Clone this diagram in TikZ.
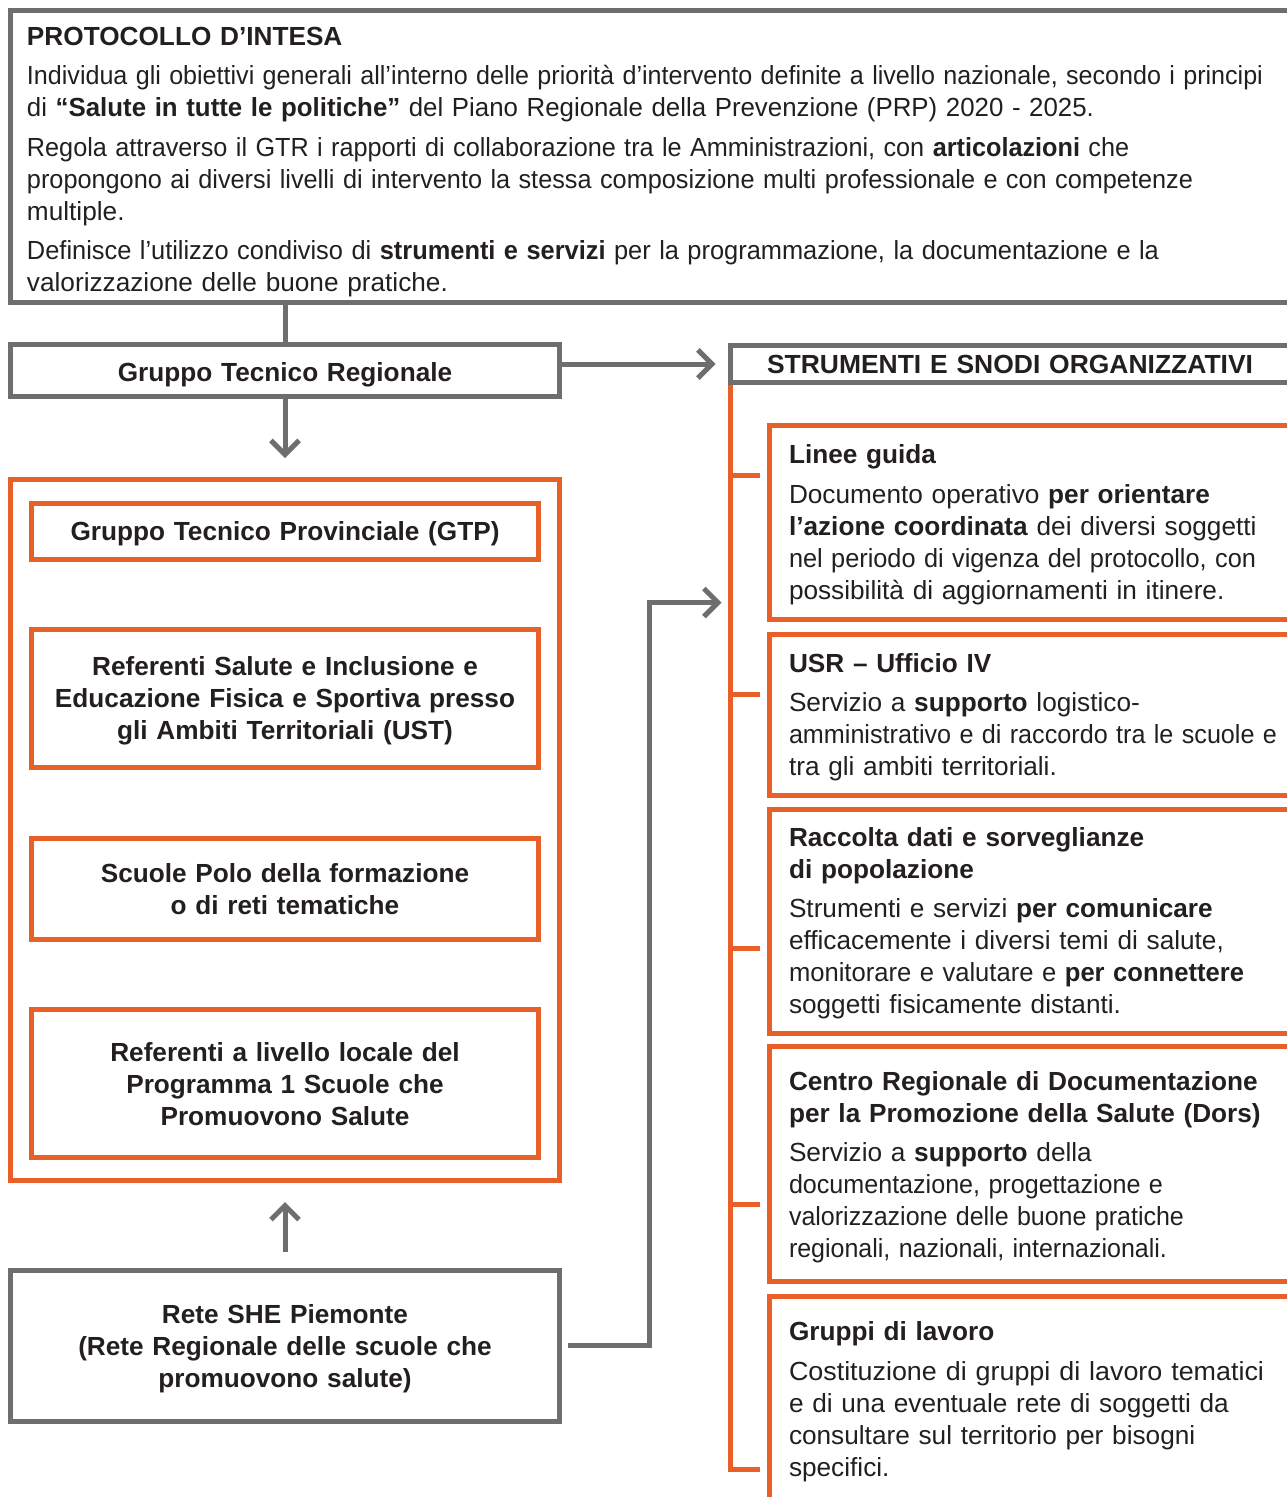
\documentclass[tikz,border=0pt]{standalone}
\usepackage{fontspec}
\usepackage{graphicx}
\setmainfont{Liberation Sans}
\usetikzlibrary{arrows.meta}
\definecolor{gr}{RGB}{110,110,110}
\definecolor{orng}{RGB}{232,96,40}
\definecolor{ink}{RGB}{35,31,32}
\newcommand\fsz{\fontsize{26.2}{32}\selectfont}
\newcommand\fitto[2]{\resizebox{#1pt}{\height}{#2}}
\begin{document}
\begin{tikzpicture}[x=1pt,y=-1pt,
  every node/.style={font=\fsz, text=ink, inner sep=0pt, outer sep=0pt},
  gbox/.style={draw=gr, line width=5pt, rectangle, anchor=north west, inner sep=0pt, outer sep=0pt},
  obox/.style={draw=orng, line width=5pt, rectangle, anchor=north west, inner sep=0pt, outer sep=0pt},
  gline/.style={draw=gr, line width=5pt, line join=miter},
  oline/.style={draw=orng, line width=5pt, line join=miter},
  arr/.style={gline, -{Straight Barb[length=14pt,width=28pt,sharp]}},
  ptext/.style={anchor=base west, align=left, text width=1300pt},
  btext/.style={anchor=base west, align=left, text width=600pt, font=\bfseries\fsz},
  ctext/.style={anchor=base, align=center, text width=520pt, font=\bfseries\fsz},
]
\useasboundingbox (0,0) rectangle (1286,1497);

% ---------- top box ----------
\node[gbox, minimum width=1300pt, minimum height=291.5pt] (top) at (10.5,10.5) {};
\node[ptext, font=\bfseries\fsz] (ttl) at (27,45) {PROTOCOLLO D’INTESA};
\node[ptext] (ptx) at (27,84) {\fitto{1236}{Individua gli obiettivi generali all’interno delle priorità d’intervento definite a livello nazionale, secondo i principi}\\
\fitto{1067}{di \textbf{“Salute in tutte le politiche”} del Piano Regionale della Prevenzione (PRP) 2020 - 2025.}\\[8pt]
\fitto{1102}{Regola attraverso il GTR i rapporti di collaborazione tra le Amministrazioni, con \textbf{articolazioni} che}\\
\fitto{1166}{propongono ai diversi livelli di intervento la stessa composizione multi professionale e con competenze}\\
multiple.\\[7pt]
\fitto{1132}{Definisce l’utilizzo condiviso di \textbf{strumenti e servizi} per la programmazione, la documentazione e la}\\
valorizzazione delle buone pratiche.};

% ---------- GTR ----------
\node[gbox, minimum width=549pt, minimum height=52pt] (gtr) at (10.5,344.5) {};
\node[ctext] (gtrt) at (285,381) {Gruppo Tecnico Regionale};
\draw[gline] (top.south -| gtr.north) -- (gtr.north);

% ---------- left orange container ----------
\node[obox, minimum width=549pt, minimum height=701pt] (lft) at (10.5,479.5) {};
\node[obox, minimum width=507pt, minimum height=55.5pt] (gtp) at (31.5,503.5) {};
\node[ctext] (gtpt) at (285,540) {Gruppo Tecnico Provinciale (GTP)};
\node[obox, minimum width=507pt, minimum height=137.5pt] (ust) at (31.5,629.5) {};
\node[ctext] (ustt) at (285,675) {Referenti Salute e Inclusione e\\Educazione Fisica e Sportiva presso\\gli Ambiti Territoriali (UST)};
\node[obox, minimum width=507pt, minimum height=101pt] (polo) at (31.5,838) {};
\node[ctext] (polot) at (285,882) {Scuole Polo della formazione\\o di reti tematiche};
\node[obox, minimum width=507pt, minimum height=148pt] (loc) at (31.5,1009.5) {};
\node[ctext] (loct) at (285,1061) {Referenti a livello locale del\\Programma 1 Scuole che\\Promuovono Salute};

\draw[arr, shorten >=21.5pt] (gtr.south) -- (lft.north);

% ---------- Rete SHE ----------
\node[gbox, minimum width=549pt, minimum height=150.5pt] (rete) at (10.5,1270.5) {};
\node[ctext] (retet) at (285,1323) {Rete SHE Piemonte\\(Rete Regionale delle scuole che\\promuovono salute)};
\draw[arr, shorten <=18.5pt, shorten >=21.5pt] (rete.north) -- (lft.south);

% ---------- right column ----------
\coordinate (sp1) at (730.5,383);
\coordinate (sp2) at (730.5,1469.5);
\coordinate (sp3) at (760,1469.5);
\draw[oline] (sp1) -- (sp2) -- (sp3);

\node[gbox, minimum width=600pt, minimum height=37pt] (strum) at (730.5,345.5) {};
\node[btext] (strumt) at (767,373) {\fitto{486}{STRUMENTI E SNODI ORGANIZZATIVI}};
\draw[arr, shorten >=15pt] (gtr.east |- strum.west) -- (strum.west);

\node[obox, minimum width=600pt, minimum height=194pt] (b1) at (769.5,425.5) {};
\node[btext] (b1t) at (789,463) {Linee guida};
\node[ptext] (b1b) at (789,503) {Documento operativo \textbf{per orientare}\\
\textbf{l’azione coordinata} dei diversi soggetti\\
\fitto{467}{nel periodo di vigenza del protocollo, con}\\
possibilità di aggiornamenti in itinere.};

\node[obox, minimum width=600pt, minimum height=161pt] (b2) at (769.5,634.5) {};
\node[btext] (b2t) at (789,672) {USR – Ufficio IV};
\node[ptext] (b2b) at (789,711) {Servizio a \textbf{supporto} logistico-\\
\fitto{488}{amministrativo e di raccordo tra le scuole e}\\
tra gli ambiti territoriali.};

\node[obox, minimum width=600pt, minimum height=224pt] (b3) at (769.5,809.5) {};
\node[btext] (b3t) at (789,846) {Raccolta dati e sorveglianze\\di popolazione};
\node[ptext] (b3b) at (789,917) {Strumenti e servizi \textbf{per comunicare}\\
efficacemente i diversi temi di salute,\\
\fitto{455}{monitorare e valutare e \textbf{per connettere}}\\
soggetti fisicamente distanti.};

\node[obox, minimum width=600pt, minimum height=235pt] (b4) at (769.5,1046.5) {};
\node[btext] (b4t) at (789,1090) {Centro Regionale di Documentazione\\per la Promozione della Salute (Dors)};
\node[ptext] (b4b) at (789,1161) {Servizio a \textbf{supporto} della\\
\fitto{374}{documentazione, progettazione e}\\
\fitto{395}{valorizzazione delle buone pratiche}\\
\fitto{378}{regionali, nazionali, internazionali.}};

\node[obox, minimum width=600pt, minimum height=240pt] (b5) at (769.5,1296.5) {};
\node[btext] (b5t) at (789,1340) {Gruppi di lavoro};
\node[ptext] (b5b) at (789,1380) {\fitto{475}{Costituzione di gruppi di lavoro tematici}\\
e di una eventuale rete di soggetti da\\
consultare sul territorio per bisogni\\
specifici.};

% ticks from spine to boxes
\coordinate (k1) at (730.5,475.5);
\coordinate (k2) at (730.5,694.5);
\coordinate (k3) at (730.5,948.5);
\coordinate (k4) at (730.5,1204.5);
\draw[oline, shorten >=9.5pt] (k1) -- (k1 -| b1.west);
\draw[oline, shorten >=9.5pt] (k2) -- (k2 -| b2.west);
\draw[oline, shorten >=9.5pt] (k3) -- (k3 -| b3.west);
\draw[oline, shorten >=9.5pt] (k4) -- (k4 -| b4.west);

% Rete SHE -> spine
\coordinate (bend) at (649.5,602.5);
\coordinate (into) at (730.5,602.5);
\draw[arr, shorten <=8.5pt, shorten >=9pt] (rete.east) -| (bend) -- (into);
\end{tikzpicture}
\end{document}
